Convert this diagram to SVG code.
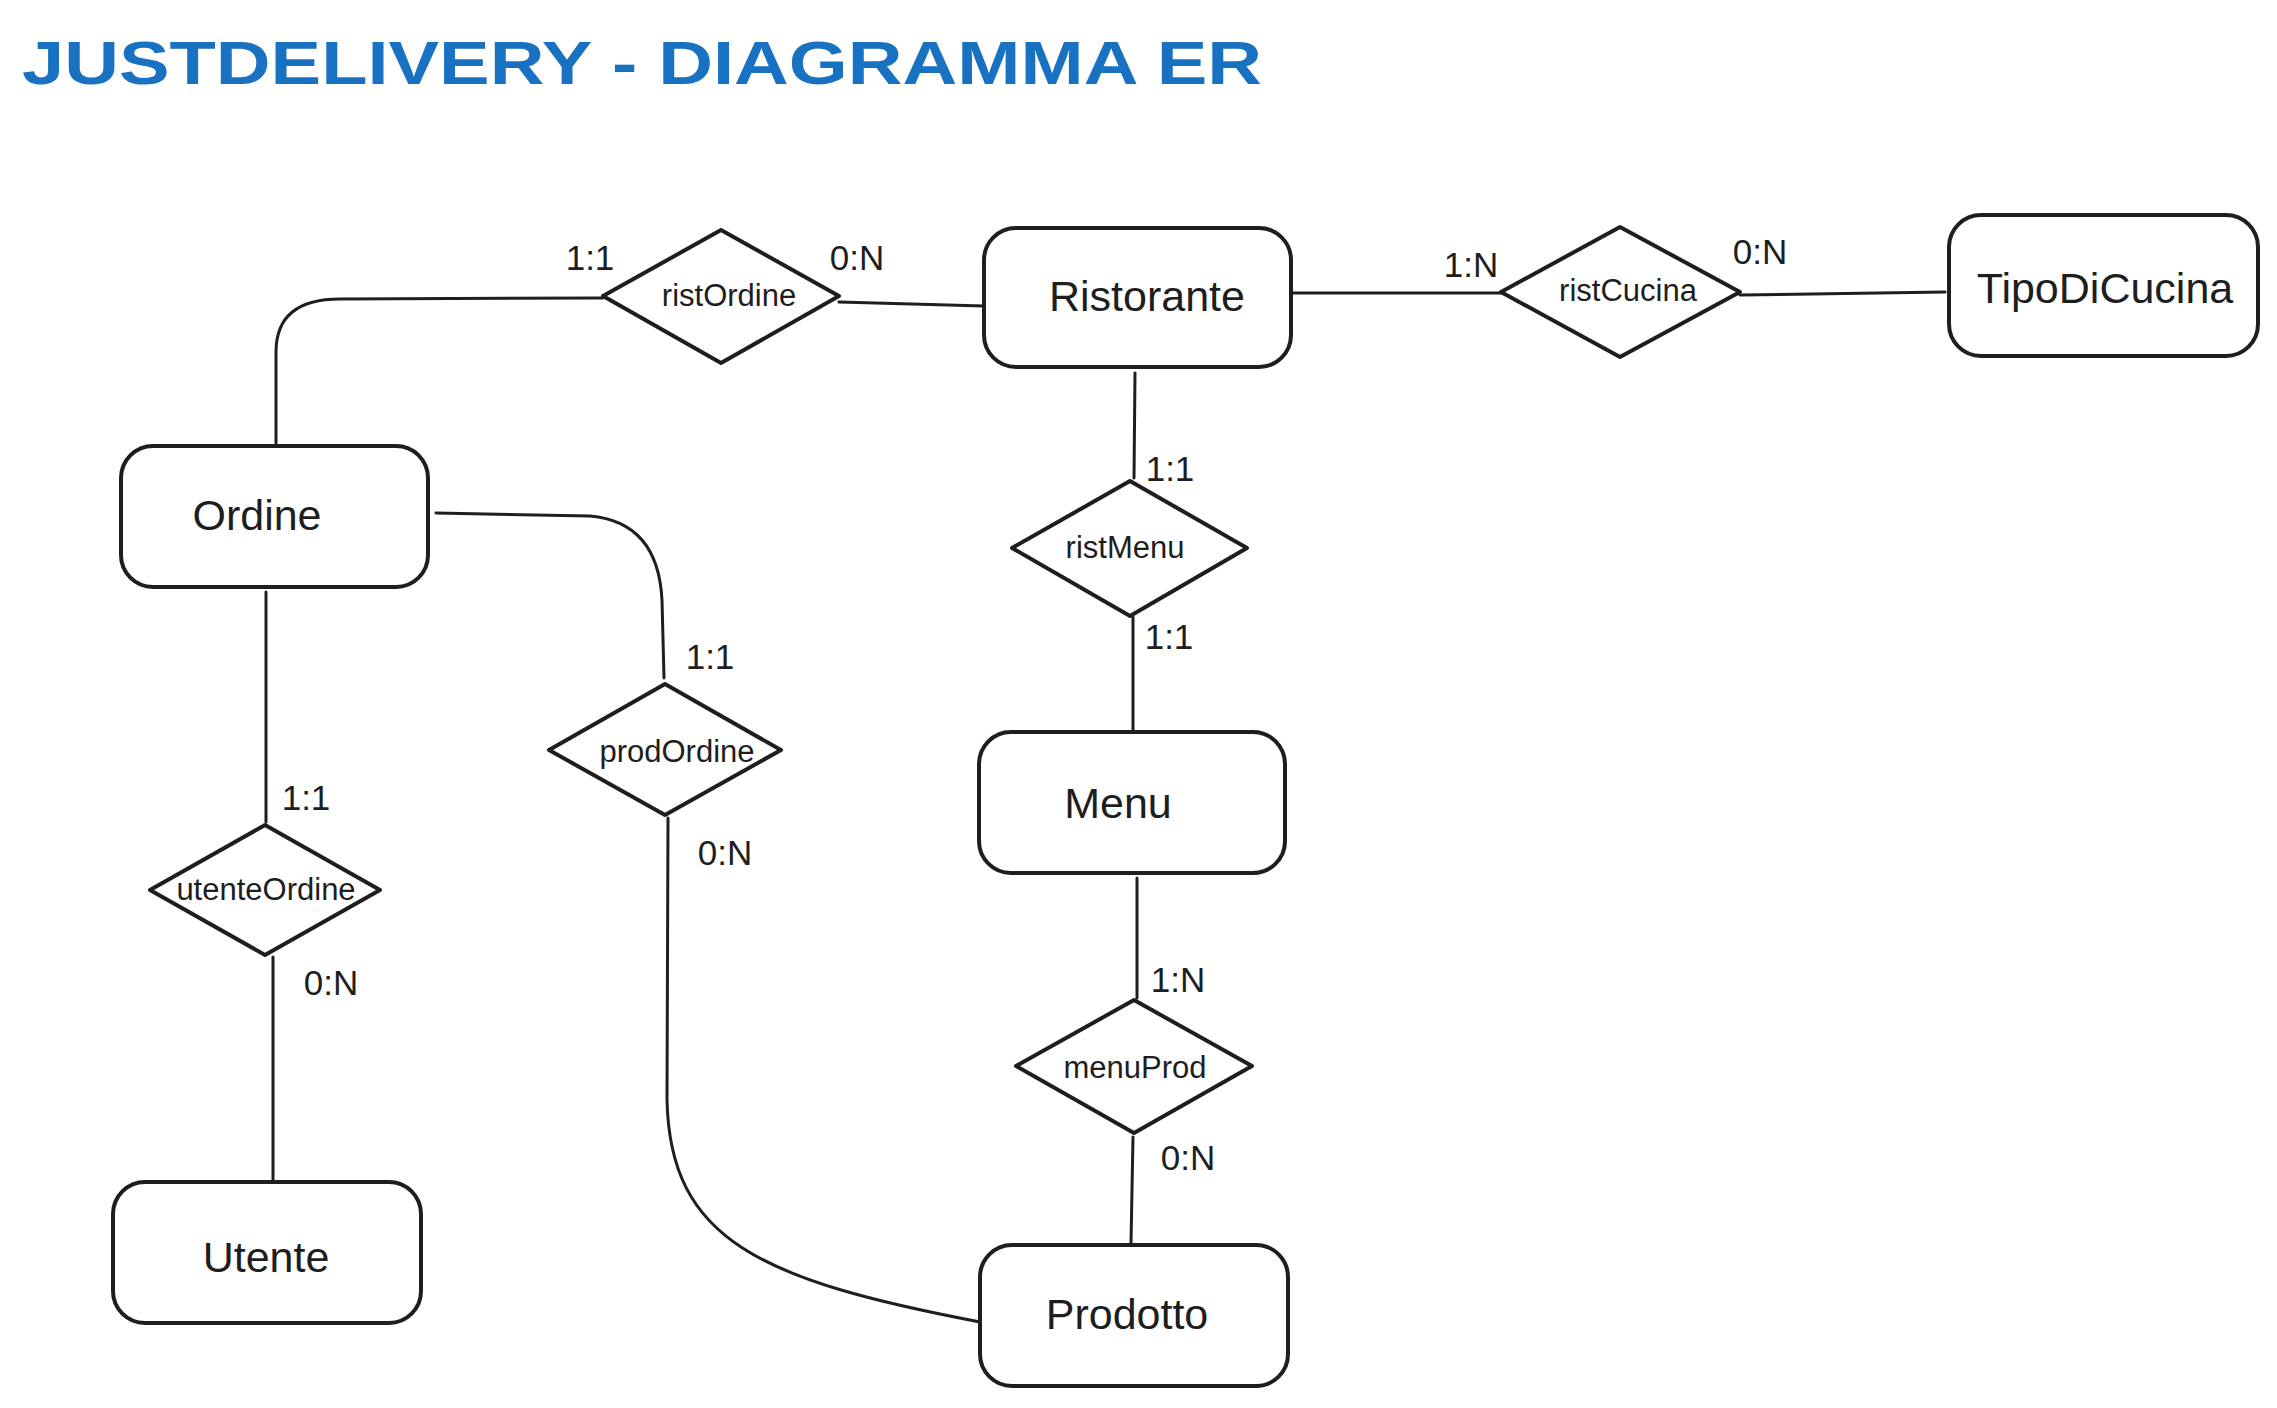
<svg xmlns="http://www.w3.org/2000/svg" width="2277" height="1408" viewBox="0 0 2277 1408">
<defs>
<style>
.ent{fill:#ffffff;stroke:#1e1e1e;stroke-width:4}
.rel{fill:#ffffff;stroke:#1e1e1e;stroke-width:4;stroke-linejoin:round}
.con{fill:none;stroke:#1e1e1e;stroke-width:3;stroke-linecap:round}
.et{font-family:"Liberation Sans",Arial,sans-serif;font-size:43px;fill:#1e1e1e;text-anchor:middle;dominant-baseline:central}
.rt{font-family:"Liberation Sans",Arial,sans-serif;font-size:31px;fill:#1e1e1e;text-anchor:middle;dominant-baseline:central}
.card{font-family:"Liberation Sans",Arial,sans-serif;font-size:35px;fill:#1e1e1e;text-anchor:middle;dominant-baseline:central}
.title{font-family:"Liberation Sans",Arial,sans-serif;font-size:62px;font-weight:bold;fill:#1971c2}
</style>
</defs>
<rect width="2277" height="1408" fill="#ffffff"/>
<text class="title" x="22" y="84" textLength="1240" lengthAdjust="spacingAndGlyphs">JUSTDELIVERY - DIAGRAMMA ER</text>

<g id="connectors">
<path class="con" d="M276,443 L276,352 Q276,299 340,299 L603,298"/>
<path class="con" d="M839,302 L984,306"/>
<path class="con" d="M1291,293 L1501,293"/>
<path class="con" d="M1740,295 L1945,292"/>
<path class="con" d="M1135,373 L1134,478"/>
<path class="con" d="M1133,617 L1133,731"/>
<path class="con" d="M1137,878 L1137,998"/>
<path class="con" d="M1133,1137 L1131,1243"/>
<path class="con" d="M436,513 L590,516 Q658,522 662,600 L664,678"/>
<path class="con" d="M266,592 L266,822"/>
<path class="con" d="M273,957 L273,1180"/>
<path class="con" d="M668,818 L667,1100 C670,1240 760,1280 980,1322"/>
</g>

<g id="Ristorante"><rect class="ent" x="984" y="228" width="307" height="139" rx="32"/><text class="et" x="1147" y="296">Ristorante</text></g>
<g id="TipoDiCucina"><rect class="ent" x="1949" y="215" width="309" height="141" rx="32"/><text class="et" x="2105" y="288">TipoDiCucina</text></g>
<g id="Ordine"><rect class="ent" x="121" y="446" width="307" height="141" rx="32"/><text class="et" x="257" y="515">Ordine</text></g>
<g id="Menu"><rect class="ent" x="979" y="732" width="306" height="141" rx="32"/><text class="et" x="1118" y="803">Menu</text></g>
<g id="Utente"><rect class="ent" x="113" y="1182" width="308" height="141" rx="32"/><text class="et" x="266" y="1257">Utente</text></g>
<g id="Prodotto"><rect class="ent" x="980" y="1245" width="308" height="141" rx="32"/><text class="et" x="1127" y="1314">Prodotto</text></g>

<g id="ristOrdine"><polygon class="rel" points="721,230 839,296 721,363 603,296"/><text class="rt" x="729" y="295">ristOrdine</text></g>
<g id="ristCucina"><polygon class="rel" points="1620,227 1740,292 1620,357 1501,292"/><text class="rt" x="1628" y="290">ristCucina</text></g>
<g id="ristMenu"><polygon class="rel" points="1130,481 1247,548 1130,616 1012,548"/><text class="rt" x="1125" y="547">ristMenu</text></g>
<g id="prodOrdine"><polygon class="rel" points="665,684 781,750 665,815 549,750"/><text class="rt" x="677" y="751">prodOrdine</text></g>
<g id="utenteOrdine"><polygon class="rel" points="265,825 380,890 265,955 150,890"/><text class="rt" x="266" y="889">utenteOrdine</text></g>
<g id="menuProd"><polygon class="rel" points="1134,1000 1252,1066 1134,1133 1016,1066"/><text class="rt" x="1135" y="1067">menuProd</text></g>

<g id="cardinalities">
<text class="card" x="590" y="257">1:1</text>
<text class="card" x="857" y="257">0:N</text>
<text class="card" x="1471" y="264">1:N</text>
<text class="card" x="1760" y="251">0:N</text>
<text class="card" x="1170" y="468">1:1</text>
<text class="card" x="1169" y="636">1:1</text>
<text class="card" x="710" y="656">1:1</text>
<text class="card" x="725" y="852">0:N</text>
<text class="card" x="306" y="797">1:1</text>
<text class="card" x="331" y="982">0:N</text>
<text class="card" x="1178" y="979">1:N</text>
<text class="card" x="1188" y="1157">0:N</text>
</g>
</svg>
